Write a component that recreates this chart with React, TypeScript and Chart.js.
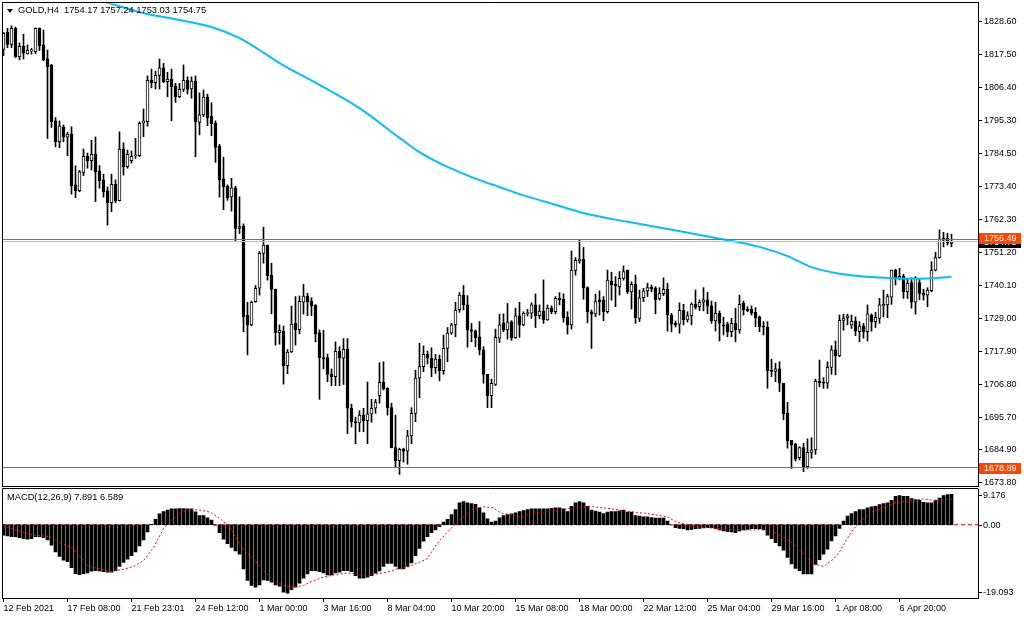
import React, { useEffect, useRef } from "react";
import { Chart, registerables } from "chart.js";

Chart.register(...registerables);

// ---------- data ----------
const SYMBOL = "GOLD,H4";

const opens = [
  1819.3,1825.0,1821.0,1826.4,1816.8,1820.3,1817.9,1818.8,1818.5,1826.4,
  1820.8,1816.1,1814.1,1795.3,1788.3,1793.2,1789.8,1790.9,1773.8,1771.9,
  1778.0,1783.4,1781.9,1784.1,1778.5,1775.5,1771.8,1767.8,1774.0,1768.5,
  1785.8,1779.9,1781.9,1783.6,1783.6,1794.5,1795.0,1808.9,1808.1,1810.6,
  1813.1,1808.5,1809.3,1807.0,1803.4,1805.9,1808.9,1806.0,1808.7,1794.8,
  1797.3,1803.3,1796.8,1794.6,1786.8,1775.8,1773.3,1769.8,1772.8,1759.2,
  1760.0,1730.1,1726.8,1734.6,1739.1,1750.8,1753.6,1743.5,1738.8,1724.2,
  1724.7,1713.1,1717.7,1727.4,1725.2,1734.4,1736.5,1734.8,1733.5,1724.1,
  1715.8,1715.8,1710.3,1709.4,1717.9,1715.6,1718.6,1698.8,1694.3,1693.9,
  1696.5,1694.6,1696.8,1698.8,1703.0,1707.5,1705.5,1699.0,1685.6,1681.2,
  1685.1,1684.4,1689.5,1697.1,1708.9,1712.8,1716.9,1715.6,1712.4,1715.3,
  1711.4,1718.9,1724.0,1726.8,1731.8,1736.8,1733.5,1725.1,1724.7,1722.8,
  1718.4,1710.2,1703.0,1706.8,1722.3,1727.5,1725.1,1727.8,1722.5,1729.8,
  1726.8,1730.6,1730.7,1733.5,1729.9,1731.4,1728.5,1732.4,1731.2,1735.7,
  1735.5,1729.4,1726.8,1745.1,1748.3,1748.8,1739.3,1731.2,1730.4,1735.2,
  1735.2,1731.2,1741.5,1740.5,1739.6,1742.4,1745.2,1737.9,1740.4,1729.0,
  1735.9,1738.2,1739.5,1739.1,1735.5,1737.3,1738.7,1730.1,1727.3,1727.0,
  1731.7,1728.5,1729.9,1733.8,1732.9,1734.4,1735.2,1733.2,1728.1,1730.7,
  1726.8,1727.1,1724.5,1727.3,1725.1,1734.0,1732.0,1732.0,1731.0,1729.5,
  1726.4,1726.0,1711.6,1711.2,1712.0,1707.2,1697.2,1688.0,1686.8,1682.2,
  1685.6,1679.2,1684.0,1684.8,1707.9,1707.6,1707.2,1712.5,1718.4,1716.4,
  1728.3,1729.1,1726.8,1728.1,1724.5,1726.4,1724.5,1730.1,1727.9,1729.0,
  1733.2,1733.5,1736.1,1745.2,1742.4,1743.1,1737.9,1741.0,1734.4,1741.0,
  1737.4,1736.8,1738.3,1745.2,1749.4,1755.9,1755.9,1754.17,
];

const highs = [
  1825.0,1826.4,1827.2,1826.8,1821.5,1824.4,1820.8,1819.7,1826.5,1826.5,
  1825.8,1819.1,1814.2,1796.4,1795.3,1793.9,1791.5,1793.3,1780.2,1778.7,
  1785.9,1784.5,1788.8,1789.9,1780.3,1777.4,1773.1,1777.4,1775.5,1791.6,
  1787.9,1785.5,1785.2,1789.4,1795.0,1799.3,1810.4,1812.7,1812.0,1816.1,
  1814.6,1811.6,1812.7,1807.9,1807.9,1814.1,1810.1,1810.1,1810.4,1804.7,
  1805.7,1804.3,1801.4,1795.3,1787.4,1783.1,1773.8,1776.0,1773.3,1769.8,
  1760.7,1734.4,1734.8,1740.0,1751.4,1759.6,1753.6,1747.5,1738.8,1726.8,
  1726.4,1718.5,1733.1,1736.3,1736.5,1740.4,1737.4,1735.9,1733.5,1725.1,
  1725.0,1717.0,1712.0,1721.1,1719.5,1722.2,1722.2,1700.2,1695.8,1698.0,
  1698.8,1707.6,1701.8,1701.8,1714.1,1714.4,1705.7,1700.5,1696.5,1685.4,
  1685.4,1691.4,1699.0,1711.6,1720.6,1719.7,1718.0,1719.1,1716.9,1716.7,
  1723.4,1725.9,1727.3,1734.4,1737.7,1740.0,1736.6,1727.3,1725.1,1727.9,
  1719.5,1710.2,1708.6,1725.4,1730.4,1730.5,1734.0,1728.2,1732.4,1734.4,
  1731.2,1732.0,1734.2,1737.2,1733.5,1741.9,1733.5,1733.2,1736.3,1737.6,
  1737.2,1731.2,1751.6,1749.4,1755.3,1752.8,1739.6,1731.8,1737.1,1738.2,
  1736.3,1745.2,1744.5,1743.0,1744.7,1746.6,1745.2,1741.3,1743.5,1738.5,
  1739.1,1740.8,1740.2,1739.6,1739.3,1742.6,1740.8,1730.7,1728.1,1734.2,
  1733.7,1731.2,1734.2,1738.5,1735.2,1739.3,1737.7,1734.8,1734.4,1731.5,
  1729.4,1727.7,1729.0,1732.4,1736.8,1734.8,1732.9,1733.2,1732.6,1729.8,
  1727.9,1727.9,1715.3,1713.9,1714.4,1707.2,1700.8,1688.0,1687.0,1685.9,
  1687.0,1688.5,1688.9,1708.6,1715.0,1709.1,1714.4,1719.8,1721.4,1730.1,
  1730.4,1730.4,1730.1,1729.5,1727.9,1727.3,1733.5,1730.5,1731.0,1735.7,
  1738.5,1737.1,1745.2,1745.5,1745.8,1743.8,1742.4,1742.6,1743.0,1742.4,
  1738.8,1739.3,1748.0,1751.2,1758.7,1757.9,1757.6,1757.24,
];

const lows = [
  1817.2,1819.9,1819.9,1816.5,1815.8,1816.1,1817.7,1817.7,1817.9,1818.9,
  1815.5,1789.4,1793.1,1786.6,1786.3,1788.3,1783.6,1770.7,1769.5,1771.5,
  1776.9,1779.4,1778.8,1768.2,1772.7,1769.7,1760.3,1764.8,1767.8,1768.4,
  1777.1,1779.4,1781.1,1782.7,1783.3,1790.0,1793.5,1806.4,1806.0,1806.0,
  1808.1,1803.4,1795.3,1801.5,1803.1,1805.1,1804.3,1802.9,1783.3,1790.6,
  1796.7,1793.7,1790.3,1781.4,1769.7,1765.5,1768.6,1765.0,1755.1,1757.5,
  1724.5,1716.7,1726.5,1734.4,1736.8,1747.5,1741.8,1730.5,1720.0,1720.3,
  1706.9,1710.4,1717.5,1720.0,1723.8,1730.4,1729.9,1729.9,1721.1,1701.8,
  1712.0,1707.7,1706.4,1706.4,1706.4,1706.8,1690.3,1692.5,1686.9,1690.9,
  1690.9,1686.9,1694.1,1697.1,1700.5,1704.9,1696.5,1685.5,1679.2,1676.6,
  1680.7,1680.0,1686.9,1694.3,1702.3,1711.1,1713.7,1709.4,1710.5,1708.0,
  1710.2,1714.4,1723.6,1722.8,1731.0,1731.8,1719.3,1721.1,1719.5,1716.7,
  1707.2,1699.0,1699.0,1706.4,1720.9,1724.5,1722.0,1721.6,1722.3,1722.6,
  1726.5,1729.8,1729.0,1725.9,1728.8,1727.3,1728.3,1730.5,1730.5,1733.5,
  1727.7,1723.7,1725.4,1743.5,1747.5,1735.4,1727.5,1718.9,1729.5,1730.1,
  1728.2,1730.7,1735.1,1732.9,1736.8,1741.8,1737.3,1732.1,1727.3,1727.9,
  1734.6,1736.3,1737.9,1730.5,1735.1,1736.6,1724.7,1724.5,1726.1,1724.0,
  1726.8,1727.7,1726.8,1732.1,1731.6,1731.5,1730.5,1727.3,1724.7,1721.4,
  1723.4,1722.8,1722.8,1721.1,1724.0,1730.1,1731.2,1730.1,1726.2,1724.5,
  1723.4,1705.5,1709.4,1707.7,1704.4,1694.9,1685.4,1678.6,1681.1,1681.4,
  1677.5,1678.6,1682.0,1683.3,1706.0,1705.5,1705.5,1710.2,1710.0,1716.1,
  1725.0,1726.8,1725.6,1723.2,1721.1,1722.3,1721.4,1724.7,1725.9,1727.3,
  1729.5,1729.2,1733.7,1740.2,1741.9,1735.7,1735.7,1732.4,1730.4,1735.2,
  1735.1,1732.9,1737.9,1744.9,1749.2,1753.0,1753.6,1753.03,
];

const closes = [
  1824.7,1821.0,1826.4,1816.8,1820.3,1818.0,1819.0,1818.9,1826.4,1820.5,
  1815.8,1813.5,1795.0,1788.3,1793.6,1789.8,1790.9,1773.5,1771.9,1778.2,
  1783.4,1781.9,1784.1,1778.2,1775.2,1771.5,1767.8,1774.0,1768.5,1785.8,
  1779.9,1784.1,1783.4,1783.8,1794.5,1795.3,1808.9,1808.1,1810.6,1813.1,
  1808.5,1809.3,1806.8,1803.4,1805.9,1808.9,1805.9,1808.7,1795.0,1797.3,
  1803.3,1796.4,1794.4,1786.4,1775.5,1773.2,1769.5,1772.8,1759.2,1759.8,
  1729.5,1726.8,1734.4,1739.1,1750.8,1753.6,1743.2,1738.7,1724.2,1725.0,
  1713.1,1717.7,1727.1,1725.2,1734.7,1736.5,1734.6,1733.2,1723.8,1715.8,
  1715.3,1710.2,1709.4,1717.9,1715.6,1718.6,1698.8,1694.3,1693.9,1696.5,
  1694.6,1696.9,1698.8,1700.9,1707.5,1705.3,1699.0,1685.6,1681.2,1685.0,
  1684.4,1689.5,1697.1,1708.9,1712.8,1716.9,1715.6,1712.4,1715.3,1711.4,
  1718.9,1724.0,1726.8,1731.8,1736.8,1733.5,1725.1,1724.7,1722.5,1718.4,
  1710.2,1703.0,1707.2,1722.6,1726.8,1725.1,1727.8,1722.5,1729.8,1726.8,
  1730.7,1730.7,1733.5,1729.9,1731.4,1728.5,1732.4,1731.2,1735.7,1735.3,
  1729.2,1726.8,1745.2,1748.5,1748.9,1739.3,1731.2,1730.4,1734.6,1734.6,
  1731.2,1741.8,1740.2,1739.9,1742.4,1744.7,1737.9,1740.4,1729.2,1735.9,
  1738.2,1739.3,1738.8,1735.3,1737.4,1738.7,1730.1,1727.0,1726.8,1731.7,
  1728.5,1729.9,1733.8,1732.7,1734.4,1735.2,1733.1,1728.1,1730.7,1727.4,
  1726.4,1724.5,1727.3,1725.1,1733.7,1731.8,1731.6,1730.7,1729.2,1726.2,
  1726.0,1711.4,1711.2,1712.0,1707.2,1697.0,1687.9,1686.5,1681.7,1685.6,
  1679.2,1684.0,1684.8,1707.9,1707.4,1707.2,1712.5,1718.4,1716.4,1728.3,
  1729.1,1729.8,1728.1,1724.7,1726.4,1724.5,1730.5,1727.9,1729.3,1733.5,
  1733.7,1736.3,1745.2,1742.4,1743.1,1737.9,1740.8,1734.4,1742.6,1737.4,
  1736.8,1738.5,1745.2,1749.4,1755.5,1755.2,1754.2,1754.75,
];

// moving average (blue line), read at sample bars
const maIndex = [24,27,33,36,44,52,59,64,69,79,89,99,104,109,114,119,124,129,134,139,146,156,166,178,189,196,202,209,219,229,233,237];
const maValues = [1835.8,1834.6,1832.2,1831.2,1829.2,1826.8,1823.1,1819.1,1814.7,1807.4,1799.6,1789.6,1784.8,1781.1,1778.1,1775.4,1773.1,1770.7,1768.7,1766.7,1764.0,1761.4,1759.0,1756.0,1753.0,1749.9,1746.2,1744.0,1742.7,1742.3,1742.5,1743.0];

// MACD(12,26,9) histogram, one value per bar
const macdHist = [
  -2.75,-2.93,-3.10,-3.10,-3.36,-3.61,-3.79,-3.61,-3.10,-3.10,
  -3.36,-3.96,-5.34,-7.06,-8.26,-9.21,-9.64,-11.19,-12.74,-12.99,
  -12.74,-12.56,-12.13,-11.96,-12.05,-12.22,-12.39,-12.39,-11.96,-10.84,
  -9.81,-8.95,-8.09,-7.06,-5.51,-3.96,-1.89,0.10,1.38,2.84,
  3.44,3.79,4.13,4.15,4.20,4.20,4.15,4.13,3.36,2.41,
  2.41,1.81,1.20,-0.10,-2.07,-3.79,-4.91,-5.94,-6.80,-7.66,
  -11.53,-14.54,-15.83,-16.27,-15.66,-14.37,-14.54,-14.97,-15.66,-16.01,
  -17.56,-17.81,-16.95,-16.27,-15.23,-13.94,-12.82,-11.96,-11.96,-12.22,
  -12.56,-13.08,-13.08,-12.56,-12.39,-11.96,-11.96,-12.22,-13.25,-13.94,
  -13.94,-13.68,-13.25,-12.65,-12.05,-10.84,-10.07,-10.07,-10.84,-11.53,
  -11.53,-10.84,-9.98,-8.09,-6.20,-4.30,-3.10,-2.07,-1.38,-0.52,
  0.69,1.38,2.67,3.96,5.68,6.02,5.68,5.51,5.34,4.39,
  3.10,1.55,0.69,0.95,1.81,2.41,2.67,2.84,3.10,3.44,
  3.70,3.96,4.13,4.13,4.13,4.13,4.13,4.30,4.39,4.39,
  4.13,3.44,4.82,5.68,6.02,5.68,4.82,3.79,3.53,3.27,
  2.93,3.27,3.44,3.44,3.61,3.79,3.27,3.27,2.41,2.24,
  2.07,2.07,1.89,1.72,1.72,1.72,0.95,-0.05,-0.77,-0.95,
  -1.03,-1.38,-1.20,-1.03,-0.95,-0.86,-0.77,-0.77,-1.03,-1.38,
  -1.64,-1.81,-1.89,-2.07,-1.64,-1.38,-1.20,-1.03,-1.03,-1.03,
  -1.38,-2.75,-3.61,-4.65,-5.51,-6.63,-8.52,-10.24,-11.36,-11.96,
  -12.82,-12.82,-12.82,-10.33,-9.12,-7.66,-6.37,-4.22,-2.93,-0.95,
  0.95,2.24,2.93,3.44,3.96,3.96,4.39,4.65,4.82,5.25,
  5.51,5.68,6.37,7.40,7.57,7.40,7.40,6.80,6.54,6.37,
  5.85,5.68,5.68,6.37,6.97,7.57,7.83,7.891,
];

// MACD signal line (red dotted), read at sample positions
const signalIndex = [0,7.5,11.7,13.75,17.1,18.75,21.25,24.2,26.7,30.4,32.5,35,37.5,40,42.5,44.2,46.7,49.2,51.7,54.2,56.7,59.2,62.5,65,67.5,70,72.5,75,77.5,80,82.5,85.8,88.3,90.8,93.3,95.8,98.3,100.8,103.3,105.8,108.3,110.8,113.3,115,117.5,120,122.5,124.2,129.2,132.5,135.8,140.8,145.8,150.8,155.8,160.8,165.8,168.3,170.8,174.2,180.8,187.5,190,192.5,195,197.5,200,202.5,205,207.5,209.2,210.8,212.5,215,217.5,220,222.5,227.5,230,232.5,237];
const signalValues = [-0.34,-2.75,-3.10,-4.65,-5.94,-7.92,-10.84,-11.53,-12.22,-11.53,-10.84,-9.38,-5.94,-1.03,1.55,3.10,3.96,3.79,3.27,1.55,-0.77,-5.51,-8.95,-11.96,-14.54,-15.83,-16.27,-15.83,-14.54,-13.68,-13.08,-12.56,-12.82,-13.25,-12.82,-12.39,-11.53,-11.10,-10.07,-8.95,-5.08,-2.07,0.52,2.24,4.13,4.65,4.39,3.10,2.07,3.10,3.36,4.13,4.82,4.30,3.53,2.93,2.07,0.69,0.09,-0.60,-1.20,-1.38,-1.20,-1.89,-3.10,-5.08,-7.66,-10.24,-10.84,-8.95,-6.80,-3.79,-1.20,1.81,3.53,4.39,5.68,6.37,6.71,6.37,6.589];

const priceTicks = [1828.6,1817.5,1806.4,1795.3,1784.5,1773.4,1762.3,1751.2,1740.1,1729.0,1717.9,1706.8,1695.7,1684.9,1673.8];
const macdTicks = [9.176, 0, -19.093];
const macdTickLabels = ["9.176", "0.00", "-19.093"];

const dateTicks = [0,16,32,48,64,80,96,112,128,144,160,176,192,208,224];
const dateLabels = ["12 Feb 2021","17 Feb 08:00","21 Feb 23:01","24 Feb 12:00","1 Mar 00:00","3 Mar 16:00","8 Mar 04:00","10 Mar 20:00","15 Mar 08:00","18 Mar 00:00","22 Mar 12:00","25 Mar 04:00","29 Mar 16:00","1 Apr 08:00","6 Apr 20:00"];

const levelUpper = 1755.49;
const levelLower = 1678.89;
const bidPrice = closes[closes.length - 1];

const PRICE_MIN = 1672.69;
const PRICE_MAX = 1835.22;
const MACD_MIN = -19.093;
const MACD_MAX = 9.176;

// ---------- styles ----------
const FONT = "'Liberation Sans', Arial, sans-serif";
const ORANGE = "#FF4500";
const BID_GRAY = "#C0C0C0";
const MA_COLOR = "#00BFFF";
const X_MIN = -0.375;
const X_MAX = 243.625;
const AXIS_W = 46;

function priceBox(ctx: CanvasRenderingContext2D, x: number, y: number, bg: string, text: string) {
  const yy = Math.round(y);
  ctx.fillStyle = bg;
  ctx.fillRect(x, yy - 5, 42, 11);
  ctx.fillStyle = "#fff";
  ctx.font = `9px ${FONT}`;
  ctx.textAlign = "left";
  ctx.textBaseline = "middle";
  ctx.fillText(text, x + 5, yy + 0.5);
}

function levelLine(ctx: CanvasRenderingContext2D, a: any, ys: any, value: number, color: string) {
  const y = Math.floor(ys.getPixelForValue(value)) + 0.5;
  ctx.strokeStyle = color;
  ctx.lineWidth = 1;
  ctx.beginPath();
  ctx.moveTo(a.left, y);
  ctx.lineTo(a.right, y);
  ctx.stroke();
}

const mainDecor = {
  id: "mainDecor",
  afterDatasetsDraw(chart: any) {
    const { ctx, chartArea: a } = chart;
    const ys = chart.scales.y;
    ctx.save();
    levelLine(ctx, a, ys, bidPrice, BID_GRAY);
    levelLine(ctx, a, ys, levelUpper, ORANGE);
    levelLine(ctx, a, ys, levelLower, ORANGE);
    ctx.restore();
  },
  afterDraw(chart: any) {
    const { ctx, chartArea: a } = chart;
    const ys = chart.scales.y;
    ctx.save();
    ctx.strokeStyle = "#000";
    ctx.lineWidth = 1;
    ctx.beginPath();
    ctx.moveTo(a.left + 0.5, a.bottom + 0.5);
    ctx.lineTo(a.left + 0.5, a.top + 0.5);
    ctx.lineTo(a.right, a.top + 0.5);
    ctx.moveTo(a.left, a.bottom + 0.5);
    ctx.lineTo(a.right + 1, a.bottom + 0.5);
    ctx.stroke();
    priceBox(ctx, a.right + 1, ys.getPixelForValue(bidPrice), "#000", bidPrice.toFixed(2));
    priceBox(ctx, a.right + 1, ys.getPixelForValue(levelUpper) - 1, ORANGE, levelUpper.toFixed(2));
    priceBox(ctx, a.right + 1, ys.getPixelForValue(levelLower), ORANGE, levelLower.toFixed(2));
    ctx.restore();
  },
};

const macdDecor = {
  id: "macdDecor",
  afterDraw(chart: any) {
    const { ctx, chartArea: a } = chart;
    const ys = chart.scales.y;
    ctx.save();
    ctx.strokeStyle = "#000";
    ctx.lineWidth = 1;
    ctx.beginPath();
    ctx.moveTo(a.left + 0.5, a.bottom);
    ctx.lineTo(a.left + 0.5, 0.5);
    ctx.lineTo(a.right, 0.5);
    ctx.stroke();
    // MT4 draws the extreme labels inset inside the panel
    const insets = [5, 0, -6];
    ctx.font = `9px ${FONT}`;
    ctx.fillStyle = "#000";
    ctx.textAlign = "left";
    ctx.textBaseline = "middle";
    macdTicks.forEach((v, k) => {
      const y = Math.round(ys.getPixelForValue(v) + insets[k]) + 0.5;
      ctx.beginPath();
      ctx.moveTo(a.right, y);
      ctx.lineTo(a.right + 4, y);
      ctx.stroke();
      ctx.fillText(macdTickLabels[k], a.right + 5, y);
    });
    ctx.restore();
  },
};

const zeroPad = (s: any) => {
  s.paddingTop = 0;
  s.paddingBottom = 0;
  s.paddingLeft = 0;
  s.paddingRight = 0;
};

export default function App() {
  const mainRef = useRef<HTMLCanvasElement>(null);
  const macdRef = useRef<HTMLCanvasElement>(null);

  useEffect(() => {
    const idx = opens.map((_, i) => i);

    const main = new Chart(mainRef.current as HTMLCanvasElement, {
      type: "bar",
      data: {
        datasets: [
          {
            type: "line",
            data: maIndex.map((x, k) => ({ x, y: maValues[k] })),
            borderColor: MA_COLOR,
            borderWidth: 2,
            pointRadius: 0,
            fill: false,
            cubicInterpolationMode: "monotone",
            order: -2,
          } as any,
          {
            type: "bar",
            data: idx.map((i) => ({ x: i, y: [opens[i], closes[i]] })),
            backgroundColor: idx.map((i) => (closes[i] >= opens[i] ? "#ffffff" : "#000000")),
            borderColor: "#000000",
            borderWidth: 1,
            borderSkipped: false,
            barThickness: 3,
            minBarLength: 1,
            grouped: false,
            order: 1,
          } as any,
          {
            type: "bar",
            data: idx.map((i) => ({ x: i, y: [lows[i], highs[i]] })),
            backgroundColor: "#000000",
            borderWidth: 0,
            barThickness: 1,
            grouped: false,
            order: 2,
          } as any,
        ],
      },
      options: {
        animation: false,
        responsive: false,
        events: [],
        layout: { padding: { left: 2, top: 2, right: 0, bottom: 6 } },
        plugins: { legend: { display: false }, tooltip: { enabled: false } },
        scales: {
          x: {
            type: "linear",
            display: false,
            min: X_MIN,
            max: X_MAX,
            offset: false,
            grid: { offset: false },
          },
          y: {
            type: "linear",
            position: "right",
            min: PRICE_MIN,
            max: PRICE_MAX,
            afterBuildTicks: (s: any) => {
              s.ticks = priceTicks.map((value) => ({ value }));
            },
            afterFit: (s: any) => {
              s.width = AXIS_W;
              zeroPad(s);
            },
            grid: { drawOnChartArea: false, drawTicks: true, tickLength: 4, color: "#000" },
            border: { display: true, color: "#000" },
            ticks: {
              autoSkip: false,
              padding: 2,
              color: "#000",
              font: { family: FONT, size: 9 },
              callback: (v: any) => Number(v).toFixed(2),
            },
          },
        },
      } as any,
      plugins: [mainDecor],
    });

    const macd = new Chart(macdRef.current as HTMLCanvasElement, {
      type: "bar",
      data: {
        datasets: [
          {
            type: "line",
            data: signalIndex.map((x, k) => ({ x, y: signalValues[k] })),
            borderColor: "#FF0000",
            borderWidth: 1,
            borderDash: [2, 2],
            pointRadius: 0,
            fill: false,
            order: -1,
          } as any,
          {
            type: "bar",
            data: macdHist.map((v, i) => ({ x: i, y: v })),
            backgroundColor: "#000000",
            borderWidth: 0,
            barThickness: 3,
            grouped: false,
            order: 1,
          } as any,
          {
            type: "line",
            data: [{ x: X_MIN, y: 0 }, { x: X_MAX, y: 0 }],
            borderColor: "#FF0000",
            borderWidth: 1,
            borderDash: [4, 3],
            pointRadius: 0,
            fill: false,
            order: 2,
          } as any,
        ],
      },
      options: {
        animation: false,
        responsive: false,
        events: [],
        layout: { padding: { left: 2, top: 1.5, right: 0, bottom: 0 } },
        plugins: { legend: { display: false }, tooltip: { enabled: false } },
        scales: {
          x: {
            type: "linear",
            position: "bottom",
            min: X_MIN,
            max: X_MAX,
            offset: false,
            afterBuildTicks: (s: any) => {
              s.ticks = dateTicks.map((value) => ({ value }));
            },
            afterFit: (s: any) => {
              s.height = 22;
              zeroPad(s);
            },
            grid: { offset: false, drawOnChartArea: false, drawTicks: true, tickLength: 4, color: "#000" },
            border: { display: true, color: "#000" },
            ticks: {
              autoSkip: false,
              maxRotation: 0,
              minRotation: 0,
              align: "start",
              padding: 1,
              color: "#000",
              font: { family: FONT, size: 9 },
              callback: (v: any) => {
                const k = dateTicks.indexOf(Number(v));
                return k >= 0 ? dateLabels[k] : "";
              },
            },
          },
          y: {
            type: "linear",
            position: "right",
            min: MACD_MIN,
            max: MACD_MAX,
            afterFit: (s: any) => {
              s.width = AXIS_W;
              zeroPad(s);
            },
            grid: { display: false },
            border: { display: true, color: "#000" },
            ticks: { display: false },
          },
        },
      } as any,
      plugins: [macdDecor],
    });

    return () => {
      main.destroy();
      macd.destroy();
    };
  }, []);

  const last = opens.length - 1;
  const headerText = `${SYMBOL}  ${opens[last].toFixed(2)} ${highs[last].toFixed(2)} ${lows[last].toFixed(2)} ${closes[last].toFixed(2)}`;
  const macdText = `MACD(12,26,9) ${macdHist[last].toFixed(3)} ${signalValues[signalValues.length - 1].toFixed(3)}`;

  const textStyle: React.CSSProperties = {
    position: "absolute",
    fontFamily: FONT,
    fontSize: 9.3,
    lineHeight: "11px",
    color: "#000",
    whiteSpace: "pre",
  };

  return (
    <div style={{ position: "fixed", left: 0, top: 0, width: 1024, height: 620, background: "#fff", overflow: "hidden" }}>
      <canvas ref={mainRef} width={1024} height={492} style={{ position: "absolute", left: 0, top: 0 }} />
      <canvas ref={macdRef} width={1024} height={132} style={{ position: "absolute", left: 0, top: 488 }} />
      <div
        style={{
          position: "absolute",
          left: 7,
          top: 9,
          width: 0,
          height: 0,
          borderLeft: "3px solid transparent",
          borderRight: "3px solid transparent",
          borderTop: "4px solid #000",
        }}
      />
      <div style={{ ...textStyle, left: 18, top: 5 }}>{headerText}</div>
      <div style={{ ...textStyle, left: 7, top: 492 }}>{macdText}</div>
    </div>
  );
}
